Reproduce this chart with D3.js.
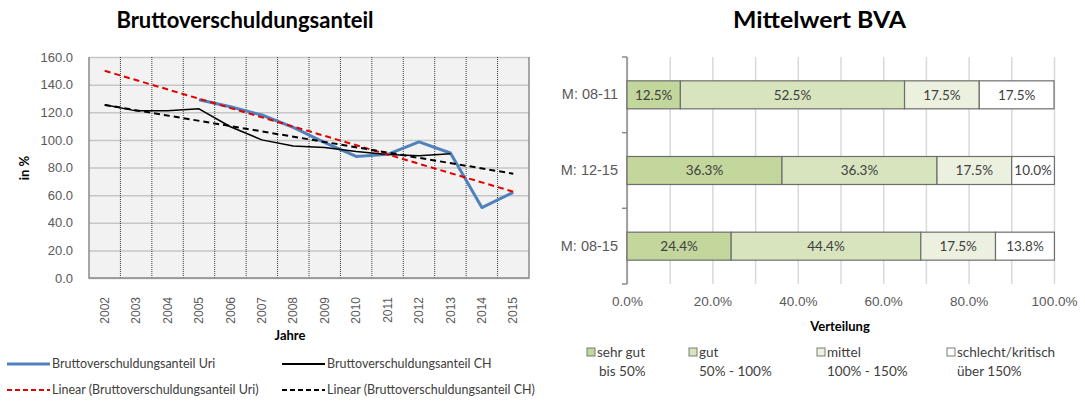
<!DOCTYPE html>
<html>
<head>
<meta charset="utf-8">
<script src="https://cdnjs.cloudflare.com/ajax/libs/d3/7.8.5/d3.min.js"></script>
<style>
  body { margin: 0; background: #fff; }
  svg { display: block; font-family: Lato, "Open Sans", sans-serif; }
  .tick text { fill: #595959; font-size: 13px; }
  path.domain { stroke: none; }
  .title { font-size: 22px; font-weight: bold; fill: #000; }
  .axislabel { font-size: 13px; font-weight: bold; fill: #000; }
  .legend text { font-size: 12.5px; fill: #404040; }
  .datalabel { font-size: 13.5px; fill: #404040; }
  .right .tick text { font-size: 13.5px; }
</style>
</head>
<body>
<svg width="1085" height="401"></svg>
<script>
// left chart data
const years = ["2002", "2003", "2004", "2005", "2006", "2007", "2008", "2009", "2010", "2011", "2012", "2013", "2014", "2015"];
const uriValues = [null, null, null, 129, 124, 118, 109, 98, 88, 89.5, 98.5, 90.5, 51, 62];
const chValues = [125.5, 121, 121, 122.5, 109.5, 100, 95.5, 94.5, 91.5, 89.5, 88.5, 90, null, null];
const trendYears = ["2002", "2015"];
const uriTrend = [150, 62.5];
const chTrend = [125.3, 75.5];
const yTicks = [0, 20, 40, 60, 80, 100, 120, 140, 160];

// right chart data
const periods = ["M: 08-11", "M: 12-15", "M: 08-15"];
const classes = ["sehr gut", "gut", "mittel", "schlecht/kritisch"];
const classRanges = ["bis 50%", "50% - 100%", "100% - 150%", "über 150%"];
const sehrGut = [12.5, 36.3, 24.4];
const gut = [52.5, 36.3, 44.4];
const mittel = [17.5, 17.5, 17.5];
const schlecht = [17.5, 10.0, 13.8];
const shareTicks = [0, 20, 40, 60, 80, 100];
const shareGrid = [0, 10, 20, 30, 40, 50, 60, 70, 80, 90, 100];

const svg = d3.select("svg");

// ---------- left: Bruttoverschuldungsanteil ----------
const x = d3.scaleBand().domain(years).range([89, 529]);
const y = d3.scaleLinear().domain([0, 160]).range([278, 57]);
const left = svg.append("g");

left.append("text").attr("class", "title")
  .attr("x", 245).attr("y", 28).attr("text-anchor", "middle")
  .text("Bruttoverschuldungsanteil");

left.append("rect")
  .attr("x", x.range()[0]).attr("y", y(160))
  .attr("width", x.range()[1] - x.range()[0]).attr("height", y(0) - y(160))
  .attr("fill", "#f2f2f2");

left.append("g").attr("transform", "translate(89,0)")
  .call(d3.axisLeft(y).tickValues(yTicks).tickSize(-440).tickFormat(""))
  .call(g => g.selectAll("line").attr("stroke", "#c6c6c6").attr("stroke-width", 1.5));

// dotted category separators
left.selectAll("line.vgrid")
  .data(years.slice(1))
  .join("line")
    .attr("x1", d => x(d)).attr("x2", d => x(d))
    .attr("y1", y(160)).attr("y2", y(0))
    .attr("stroke", "#3a3a3a").attr("stroke-width", 1)
    .attr("stroke-dasharray", "1,1");

// frame
left.append("path")
  .attr("d", `M${x.range()[0]},${y(160)}V${y(0)}H${x.range()[1]}V${y(160)}`)
  .attr("fill", "none").attr("stroke", "#8a8a8a").attr("stroke-width", 1.5);

left.append("g").attr("transform", "translate(89,0)")
  .call(d3.axisLeft(y).tickValues(yTicks).tickSize(0).tickPadding(16).tickFormat(d3.format(".1f")));

const xAxis = left.append("g").attr("transform", `translate(0,${y(0)})`)
  .call(d3.axisBottom(x).tickSize(0));
xAxis.selectAll("text")
  .attr("transform", "rotate(-90)")
  .attr("x", -19).attr("y", 0).attr("dy", "0.35em")
  .attr("text-anchor", "end")
  .style("font-size", "12px");

left.append("text").attr("class", "axislabel")
  .attr("x", 290).attr("y", 340).attr("text-anchor", "middle").text("Jahre");
left.append("text").attr("class", "axislabel")
  .attr("transform", "translate(29,168) rotate(-90)")
  .attr("text-anchor", "middle").text("in %");

const line = d3.line()
  .defined(d => d[1] != null)
  .x(d => x(d[0]) + x.bandwidth() / 2)
  .y(d => y(d[1]));

left.append("path").datum(d3.zip(years, uriValues))
  .attr("d", line).attr("fill", "none")
  .attr("stroke", "#4f81bd").attr("stroke-width", 3).attr("stroke-linejoin", "round");
left.append("path").datum(d3.zip(years, chValues))
  .attr("d", line).attr("fill", "none")
  .attr("stroke", "#000").attr("stroke-width", 1.5).attr("stroke-linejoin", "round");
left.append("path").datum(d3.zip(trendYears, uriTrend))
  .attr("d", line).attr("fill", "none")
  .attr("stroke", "#e00000").attr("stroke-width", 2).attr("stroke-dasharray", "6,4");
left.append("path").datum(d3.zip(trendYears, chTrend))
  .attr("d", line).attr("fill", "none")
  .attr("stroke", "#000").attr("stroke-width", 2).attr("stroke-dasharray", "6,4");

// left legend
const legendItems = [
  {label: "Bruttoverschuldungsanteil Uri", color: "#4f81bd", width: 3, dash: null, lx: 7, ly: 364},
  {label: "Bruttoverschuldungsanteil CH", color: "#000", width: 2, dash: null, lx: 282, ly: 364},
  {label: "Linear (Bruttoverschuldungsanteil Uri)", color: "#e00000", width: 2, dash: "5,3", lx: 7, ly: 390},
  {label: "Linear (Bruttoverschuldungsanteil CH)", color: "#000", width: 2, dash: "5,3", lx: 282, ly: 390}
];
const lleg = left.append("g").attr("class", "legend")
  .selectAll("g").data(legendItems).join("g")
  .attr("transform", d => `translate(${d.lx},${d.ly})`);
lleg.append("line").attr("x1", 0).attr("x2", 43)
  .attr("stroke", d => d.color).attr("stroke-width", d => d.width)
  .attr("stroke-dasharray", d => d.dash);
lleg.append("text").attr("x", 45).attr("dy", "0.35em").text(d => d.label);

// ---------- right: Mittelwert BVA ----------
const table = periods.map((p, i) => ({
  period: p, "sehr gut": sehrGut[i], "gut": gut[i], "mittel": mittel[i], "schlecht/kritisch": schlecht[i]
}));
const stacked = d3.stack().keys(classes)(table);
const colors = d3.scaleOrdinal().domain(classes).range(["#c3d69b", "#d7e4bd", "#ebf1de", "#ffffff"]);

const xr = d3.scaleLinear().domain([0, 100]).range([627, 1054]);
const yr = d3.scaleBand().domain(periods).range([57, 284]).paddingInner(0.63).paddingOuter(0.315);
const right = svg.append("g").attr("class", "right");

right.append("text").attr("class", "title")
  .attr("x", 733).attr("y", 28)
  .attr("textLength", 173).attr("lengthAdjust", "spacingAndGlyphs")
  .text("Mittelwert BVA");

right.append("g").attr("transform", "translate(0,284)")
  .call(d3.axisBottom(xr).tickValues(shareGrid).tickSize(-227).tickFormat(""))
  .call(g => g.selectAll("line").attr("stroke", "#d9d9d9").attr("stroke-width", 1.5));

right.append("g").attr("transform", "translate(0,284)")
  .call(d3.axisBottom(xr).tickValues(shareTicks).tickSize(0).tickPadding(12)
    .tickFormat(d => d.toFixed(1) + "%"));

// y axis line with ticks at band boundaries
const yBounds = d3.range(periods.length + 1).map(i => yr.range()[0] + i * yr.step());
right.append("line").attr("x1", xr(0)).attr("x2", xr(0))
  .attr("y1", yr.range()[0]).attr("y2", yr.range()[1])
  .attr("stroke", "#8a8a8a").attr("stroke-width", 1.5);
right.selectAll("line.ytick").data(yBounds).join("line")
  .attr("x1", xr(0) - 5).attr("x2", xr(0))
  .attr("y1", d => d).attr("y2", d => d)
  .attr("stroke", "#8a8a8a").attr("stroke-width", 1.5);

right.append("g").attr("transform", `translate(${xr(0)},0)`)
  .call(d3.axisLeft(yr).tickSize(0).tickPadding(9))
  .call(g => g.selectAll("text").style("font-size", "14.5px").attr("fill", "#404040"));

const series = right.selectAll("g.series").data(stacked).join("g")
  .attr("fill", d => colors(d.key));
series.selectAll("rect").data(d => d).join("rect")
  .attr("x", d => xr(d[0]))
  .attr("y", d => yr(d.data.period))
  .attr("width", d => xr(d[1]) - xr(d[0]))
  .attr("height", yr.bandwidth())
  .attr("stroke", "#6e6e6e").attr("stroke-width", 1.2);

stacked.forEach(s => {
  right.selectAll(null).data(s).join("text")
    .attr("class", "datalabel")
    .attr("x", d => (xr(d[0]) + xr(d[1])) / 2)
    .attr("y", d => yr(d.data.period) + yr.bandwidth() / 2)
    .attr("dy", "0.35em").attr("text-anchor", "middle")
    .text(d => d.data[s.key].toFixed(1) + "%");
});

right.append("text").attr("class", "axislabel")
  .attr("x", 840).attr("y", 331).attr("text-anchor", "middle").text("Verteilung");

// right legend
const legendX = [587, 689, 817, 947];
const rleg = right.append("g").attr("class", "legend")
  .selectAll("g").data(classes).join("g")
  .attr("transform", (d, i) => `translate(${legendX[i]},352)`);
rleg.append("rect").attr("x", 0).attr("y", -4).attr("width", 8).attr("height", 8)
  .attr("fill", d => colors(d)).attr("stroke", "#7a7a7a");
rleg.append("text").attr("x", 10).attr("dy", "0.35em").style("font-size", "13.5px").text(d => d);
rleg.append("text").attr("x", (d, i) => i === 0 ? 12 : 10).attr("y", 19).attr("dy", "0.35em")
  .style("font-size", "13.5px").text((d, i) => classRanges[i]);
</script>
</body>
</html>
